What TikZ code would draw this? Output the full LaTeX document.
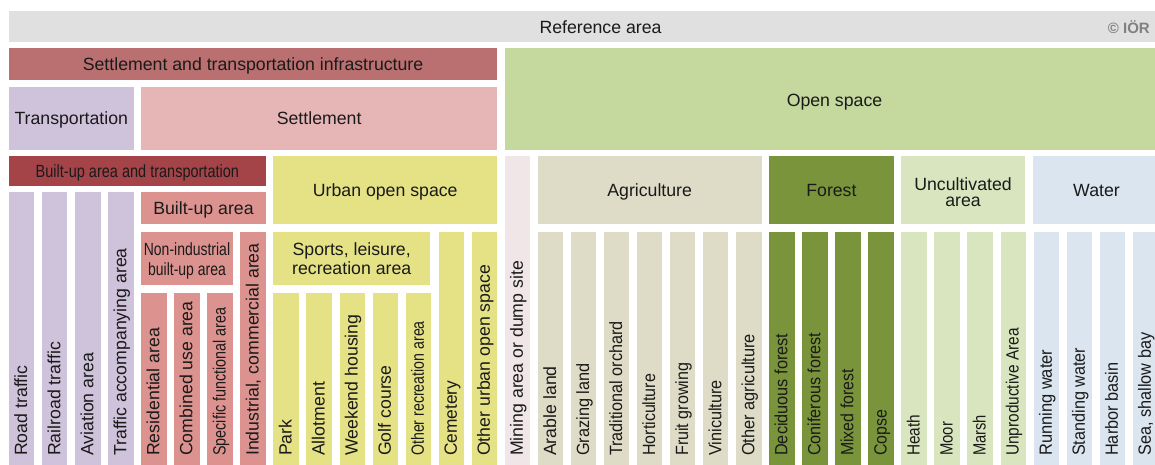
\documentclass[tikz,border=0pt]{standalone}
\usepackage{graphicx}
\usepackage{fontspec}
\setmainfont{Liberation Sans}
\usetikzlibrary{calc}
\definecolor{cRef}{HTML}{E0E0E0}
\definecolor{cSTI}{HTML}{BA7070}
\definecolor{cTra}{HTML}{CFC3DB}
\definecolor{cSet}{HTML}{E6B6B6}
\definecolor{cBAT}{HTML}{A44448}
\definecolor{cBU}{HTML}{DC938F}
\definecolor{cUOS}{HTML}{E5E286}
\definecolor{cMin}{HTML}{F0E6E8}
\definecolor{cAgr}{HTML}{DEDCC7}
\definecolor{cFor}{HTML}{7A943C}
\definecolor{cUnc}{HTML}{D9E5BF}
\definecolor{cWat}{HTML}{DBE5EF}
\definecolor{cOS}{HTML}{C5D89D}
\definecolor{cTxt}{HTML}{1A1A1A}
\definecolor{cIOR}{HTML}{808080}
\tikzset{
  lab/.style={inner sep=0pt, text=cTxt, font=\fontsize{17.7pt}{21pt}\selectfont},
  vlab/.style={lab, rotate=90, anchor=base west},
}
\newcommand\blk[7]{%
  \pgfmathsetmacro\xa{9+33.05*#2}%
  \pgfmathsetmacro\xb{9+33.05*#3+25.4}%
  \pgfmathsetmacro\xc{(\xa+\xb)/2}%
  \pgfmathsetmacro\yc{(#4+#5)/2+6.4}%
  \fill[#6] (\xa,#4) rectangle (\xb,#5);
  \node[lab, anchor=base] (#1) at (\xc,\yc) {#7};
}
\newcommand\vcol[6]{%
  \pgfmathsetmacro\xa{9+33.05*#2}%
  \pgfmathsetmacro\xb{\xa+25.4}%
  \pgfmathsetmacro\xt{\xa+12.7+5.5}%
  \fill[#4] (\xa,#3) rectangle (\xb,470);
  \node[vlab] (#1) at (\xt,456) {\scalebox{#5}[1]{#6}};
}
\begin{document}
\begin{tikzpicture}[x=1pt,y=-1pt]
\useasboundingbox (0,0) rectangle (1155,464);
\clip (0,0) rectangle (1155,464);
\fill[white] (0,0) rectangle (1155,464);
% level 0
\fill[cRef] (9,11) rectangle (1170,42);
\node[lab, anchor=base] (ref) at (600.5,33) {Reference area};
\node[inner sep=0pt, text=cIOR, font=\bfseries\fontsize{15pt}{18pt}\selectfont, anchor=base east] (ior) at (1150,33.3) {© IÖR};
% level 1
\blk{sti}{0}{14}{48}{80}{cSTI}{Settlement and transportation infrastructure}
\fill[cOS] (504.75,48) rectangle (1170,150);
\node[lab, anchor=base] (os) at (834.5,106) {Open space};
% level 2
\blk{tra}{0}{3}{87}{150}{cTra}{Transportation}
\blk{set}{4}{14}{87}{150}{cSet}{Settlement}
% level 3
\blk{bat}{0}{7}{156}{186}{cBAT}{\scalebox{0.82}[1]{Built-up area and transportation}}
\blk{uos}{8}{14}{156}{224}{cUOS}{Urban open space}
\blk{agr}{16}{22}{156}{224}{cAgr}{Agriculture}
\blk{for}{23}{26}{156}{224}{cFor}{Forest}
\fill[cUnc] (901.35,156) rectangle (1024.8,224);
\node[lab, align=center, font=\fontsize{17.7pt}{16pt}\selectfont, text depth=0pt] (unc) at (963,192) {Uncultivated\\area};
\fill[cWat] (1032.55,156) rectangle (1170,224);
\node[lab, anchor=base] (wat) at (1096.5,196.4) {Water};
% level 4
\blk{bu}{4}{7}{192}{224}{cBU}{Built-up area}
% level 5
\fill[cBU] (141.2,232) rectangle (232.9,285);
\node[lab, align=center, font=\fontsize{17.7pt}{20pt}\selectfont, text depth=0pt] (nib) at (187,258.8) {\scalebox{0.79}[1]{Non-industrial}\\\scalebox{0.79}[1]{built-up area}};
\fill[cUOS] (273.4,232) rectangle (430.0,285);
\node[lab, align=center, font=\fontsize{17.7pt}{19.5pt}\selectfont, text depth=0pt] (slr) at (351.7,258.8) {Sports, leisure,\\recreation area};
% columns
\vcol{road}{0}{192}{cTra}{1}{Road traffic}
\vcol{rail}{1}{192}{cTra}{1}{Railroad traffic}
\vcol{avia}{2}{192}{cTra}{1}{Aviation area}
\vcol{tacc}{3}{192}{cTra}{1}{Traffic accompanying area}
\vcol{res}{4}{293}{cBU}{1}{Residential area}
\vcol{comb}{5}{293}{cBU}{1}{Combined use area}
\vcol{spec}{6}{293}{cBU}{0.81}{Specific functional area}
\vcol{ind}{7}{232}{cBU}{1}{Industrial, commercial area}
\vcol{park}{8}{293}{cUOS}{1}{Park}
\vcol{allot}{9}{293}{cUOS}{1}{Allotment}
\vcol{week}{10}{293}{cUOS}{1}{Weekend housing}
\vcol{golf}{11}{293}{cUOS}{1}{Golf course}
\vcol{orec}{12}{293}{cUOS}{0.80}{Other recreation area}
\vcol{cem}{13}{232}{cUOS}{0.98}{Cemetery}
\vcol{ouos}{14}{232}{cUOS}{1}{Other urban open space}
\vcol{mine}{15}{156}{cMin}{1}{Mining area or dump site}
\vcol{arab}{16}{232}{cAgr}{1}{Arable land}
\vcol{graz}{17}{232}{cAgr}{0.92}{Grazing land}
\vcol{trad}{18}{232}{cAgr}{0.915}{Traditional orchard}
\vcol{hort}{19}{232}{cAgr}{0.906}{Horticulture}
\vcol{fruit}{20}{232}{cAgr}{0.91}{Fruit growing}
\vcol{vini}{21}{232}{cAgr}{0.92}{Viniculture}
\vcol{oagr}{22}{232}{cAgr}{0.925}{Other agriculture}
\vcol{dec}{23}{232}{cFor}{0.92}{Deciduous forest}
\vcol{con}{24}{232}{cFor}{0.915}{Coniferous forest}
\vcol{mix}{25}{232}{cFor}{0.90}{Mixed forest}
\vcol{copse}{26}{232}{cFor}{0.90}{Copse}
\vcol{heath}{27}{232}{cUnc}{0.87}{Heath}
\vcol{moor}{28}{232}{cUnc}{0.84}{Moor}
\vcol{marsh}{29}{232}{cUnc}{0.83}{Marsh}
\vcol{unpr}{30}{232}{cUnc}{0.87}{Unproductive Area}
\vcol{run}{31}{232}{cWat}{0.93}{Running water}
\vcol{stand}{32}{232}{cWat}{0.915}{Standing water}
\vcol{harb}{33}{232}{cWat}{0.92}{Harbor basin}
\vcol{sea}{34}{232}{cWat}{0.92}{Sea, shallow bay}
\end{tikzpicture}
\end{document}
